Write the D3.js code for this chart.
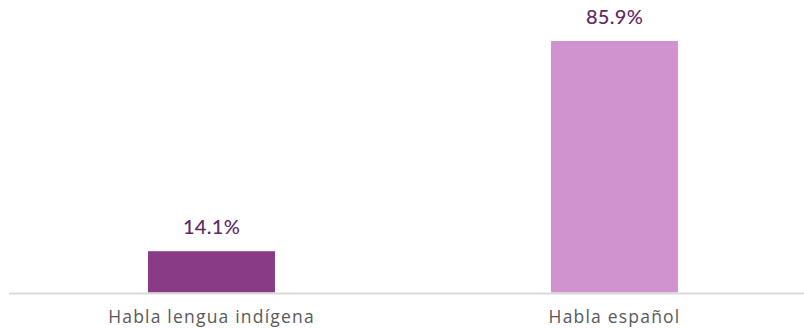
<!DOCTYPE html>
<html>
<head>
<meta charset="utf-8">
<script src="https://cdn.jsdelivr.net/npm/d3@7"></script>
<style>
  body { margin: 0; background: #fff; }
  svg { display: block; font-family: Lato, "Open Sans", sans-serif; }
</style>
</head>
<body>
<div id="chart"></div>
<script>
// データ
const categories = ['Habla lengua indígena', 'Habla español'];
const values = [14.1, 85.9];
const barColors = ['#8a3b86', '#d093cf'];

const width = 804, height = 328;
const baseY = 292.5;

const svg = d3.select('#chart').append('svg')
    .attr('width', width)
    .attr('height', height);

const x = d3.scaleBand()
    .domain(categories)
    .range([10, 816])
    .paddingInner(0.685)
    .paddingOuter(0.3425);

const y = d3.scaleLinear()
    .domain([0, 85.9])
    .range([baseY, 41]);

// バー
svg.selectAll('.bar')
    .data(values)
    .enter()
    .append('rect')
    .attr('class', 'bar')
    .attr('x', (d, i) => x(categories[i]))
    .attr('y', d => y(d))
    .attr('width', x.bandwidth())
    .attr('height', d => baseY - y(d))
    .attr('fill', (d, i) => barColors[i]);

// 値ラベル
svg.selectAll('.value')
    .data(values)
    .enter()
    .append('text')
    .attr('class', 'value')
    .attr('x', (d, i) => x(categories[i]) + x.bandwidth() / 2)
    .attr('y', d => y(d) - 17)
    .attr('text-anchor', 'middle')
    .attr('fill', '#5f2a62')
    .style('font-size', '20px')
    .style('font-weight', '500')
    .style('letter-spacing', '0.3px')
    .text(d => d.toFixed(1) + '%');

// X軸
const xAxis = d3.axisBottom(x).tickSize(0).tickPadding(17);
const axisG = svg.append('g')
    .attr('transform', `translate(0,${baseY + 1})`)
    .call(xAxis);
axisG.select('.domain')
    .attr('d', `M9,0H${width}`)
    .attr('stroke', '#d9d9d9')
    .attr('stroke-width', 2);
axisG.selectAll('.tick text')
    .attr('fill', '#595959')
    .style('font-size', '17.5px')
    .style('letter-spacing', '1.2px')
    .style('font-family', '"Open Sans", sans-serif');
</script>
</body>
</html>
